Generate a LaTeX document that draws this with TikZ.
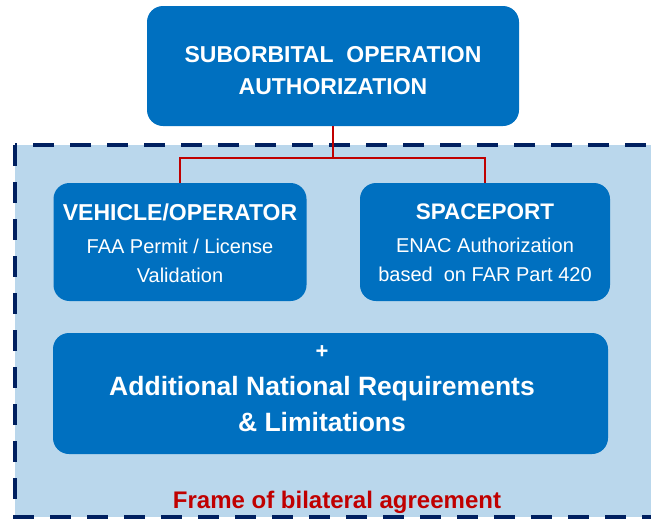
\documentclass[tikz,border=0pt]{standalone}
\usepackage{fontspec}
\setmainfont{Liberation Sans}
\definecolor{boxblue}{HTML}{0070C0}
\definecolor{framefill}{HTML}{BAD7EC}
\definecolor{framenavy}{HTML}{002060}
\definecolor{linkred}{HTML}{C00000}
\tikzset{
  bluebox/.style={fill=boxblue, rounded corners=16pt, inner sep=0pt},
  boxtext/.style={text=white, align=center, inner sep=0pt},
  link/.style={draw=linkred, line width=2.5pt},
}
\begin{document}
\begin{tikzpicture}[x=1pt,y=-1pt]
        \useasboundingbox (0,0) rectangle (651,520);
        \clip (0,0) rectangle (651,520);
        % frame of the agreement
        \draw [framenavy, fill=framefill, line width=4pt, dash pattern=on 21pt off 16pt]
        (15,145) rectangle (680,517);
        \node [text=linkred, font=\fontsize{24}{24}\selectfont\bfseries] (frametext) at (337,502) {Frame of bilateral agreement};
        % boxes
        \node [bluebox, minimum width=372pt, minimum height=120pt] (top) at (333,66) {};
        \node [bluebox, minimum width=253pt, minimum height=118pt] (vehicle) at (180,242) {};
        \node [bluebox, minimum width=250pt, minimum height=118pt] (spaceport) at (485,242) {};
        \node [bluebox, minimum width=555pt, minimum height=121pt] (national) at (330.5,393.5) {};
        % texts
        \node [boxtext, font=\fontsize{23}{32}\selectfont\bfseries] (toptext) at (333,71)
        {SUBORBITAL\ \ OPERATION\\AUTHORIZATION};
        \node [boxtext, font=\fontsize{20}{29}\selectfont] (vehicletext) at (180,243)
        {{\fontsize{23}{23}\selectfont\bfseries VEHICLE/OPERATOR}\\[4pt]FAA Permit / License\\Validation};
        \node [boxtext, font=\fontsize{20}{29}\selectfont] (spaceporttext) at (485,243)
        {{\fontsize{22.5}{23}\selectfont\bfseries SPACEPORT}\\[4pt]ENAC Authorization\\based\ \ on FAR Part 420};
        \node [boxtext, font=\fontsize{26.5}{36}\selectfont\bfseries] (nationaltext) at (322,389)
        {{\fontsize{22}{22}\selectfont +}\\[1pt]Additional National Requirements\\\& Limitations};
        % connectors
        \coordinate (split) at (333,158);
        \draw [link] (top.south) -- (split);
        \draw [link] (split) -| (vehicle.north);
        \draw [link] (split) -| (spaceport.north);
\end{tikzpicture}
\end{document}
